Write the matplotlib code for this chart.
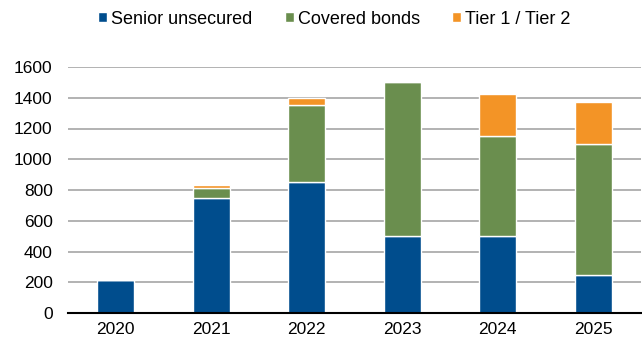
import matplotlib.pyplot as plt
import numpy as np

plt.rcParams['font.family'] = ['Liberation Sans', 'DejaVu Sans']

years = ['2020', '2021', '2022', '2023', '2024', '2025']
senior = [215, 750, 850, 500, 500, 250]
covered = [0, 60, 500, 1000, 650, 850]
tier = [0, 20, 50, 0, 275, 275]

colors = {'senior': '#004D8D', 'covered': '#6A8E4E', 'tier': '#F39426'}

fig = plt.figure(figsize=(6.42, 3.40), dpi=100)
ax = fig.add_axes([68 / 642, 27 / 340, 573 / 642, 246 / 340])

x = np.arange(len(years))
w = 0.39
senior_a = np.array(senior)
covered_a = np.array(covered)
tier_a = np.array(tier)

ax.bar(x, senior_a, w, color=colors['senior'], edgecolor='white', linewidth=1,
       label='Senior unsecured', zorder=3)
ax.bar(x, covered_a, w, bottom=senior_a, color=colors['covered'], edgecolor='white',
       linewidth=1, label='Covered bonds', zorder=3)
ax.bar(x, tier_a, w, bottom=senior_a + covered_a, color=colors['tier'], edgecolor='white',
       linewidth=1, label='Tier 1 / Tier 2', zorder=3)

ax.set_xlim(-0.5, 5.5)
ax.set_ylim(0, 1600)
ax.set_yticks(range(0, 1601, 200))
ax.set_xticks(x)
ax.set_xticklabels(years)
ax.yaxis.grid(True, color='#A6A6A6', linewidth=1.2, zorder=0)
ax.set_axisbelow(True)

for s in ['top', 'right', 'left']:
    ax.spines[s].set_visible(False)
ax.spines['bottom'].set_color('black')
ax.spines['bottom'].set_linewidth(1.5)
ax.spines['bottom'].set_zorder(4)

ax.tick_params(axis='both', length=0, labelsize=12.5, colors='black')
ax.tick_params(axis='x', pad=6.5)
ax.tick_params(axis='y', pad=11)

fig.legend(loc='center left', bbox_to_anchor=(98 / 642, 1 - 19 / 340), ncol=3,
           frameon=False, fontsize=13, handlelength=0.5, handleheight=0.5,
           handletextpad=0.22, columnspacing=1.8, borderaxespad=0, borderpad=0)

fig.savefig('out.png', dpi=100)
